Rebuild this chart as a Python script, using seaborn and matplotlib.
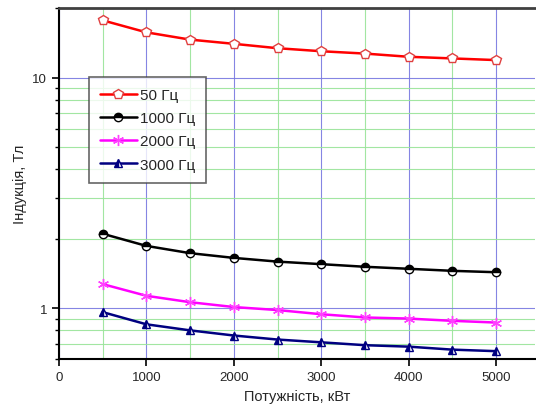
import numpy as np
import pandas as pd
import seaborn as sns
from matplotlib import pyplot as plt
from matplotlib.ticker import LogLocator, FixedLocator, NullFormatter

# style
sns.set_style("white")
plt.rcParams["font.family"] = ["Liberation Sans", "DejaVu Sans"]

# data
power = [500, 1000, 1500, 2000, 2500, 3000, 3500, 4000, 4500, 5000]
b_50 = [17.7, 15.7, 14.6, 14.0, 13.4, 13.0, 12.7, 12.3, 12.1, 11.9]
b_1000 = [2.10, 1.86, 1.73, 1.65, 1.59, 1.55, 1.51, 1.48, 1.45, 1.43]
b_2000 = [1.27, 1.13, 1.06, 1.01, 0.98, 0.94, 0.91, 0.90, 0.88, 0.865]
b_3000 = [0.96, 0.85, 0.80, 0.76, 0.73, 0.71, 0.69, 0.68, 0.66, 0.65]
x_ticks = [0, 1000, 2000, 3000, 4000, 5000]

fig = plt.figure(figsize=(5.36, 4.14), dpi=100)
ax = fig.add_axes([0.110, 0.130, 0.889, 0.848])

#series styles
series = [
    ("50 Гц", b_50, dict(color="red", marker="p", markerfacecolor="white",
                          markeredgecolor="#e04040", markersize=7)),
    ("1000 Гц", b_1000, dict(color="black", marker="o", fillstyle="top",
                             markerfacecolor="black", markerfacecoloralt="white",
                             markeredgecolor="black", markersize=6)),
    ("2000 Гц", b_2000, dict(color="#ff00ff", marker=(6, 2, 0),
                             markeredgecolor="#ff40ff", markersize=8)),
    ("3000 Гц", b_3000, dict(color="#000080", marker="^", fillstyle="left",
                             markerfacecolor="#000080", markerfacecoloralt="white",
                             markeredgecolor="#000080", markersize=6)),
]

for name, vals, kw in series:
    sns.lineplot(x=power, y=vals, ax=ax, label=name, linewidth=1.8,
                 markeredgewidth=1, **kw)

ax.set_yscale("log")
ax.set_xlim(0, 5450)
ax.set_ylim(0.6, 20)

ax.xaxis.set_major_locator(FixedLocator(x_ticks))
ax.xaxis.set_minor_locator(FixedLocator([500, 1500, 2500, 3500, 4500]))
ax.yaxis.set_major_locator(FixedLocator([1, 10]))
ax.yaxis.set_major_formatter(plt.FuncFormatter(lambda v, p: f"{v:g}"))
ax.yaxis.set_minor_locator(LogLocator(base=10, subs=np.arange(2, 10)))
ax.yaxis.set_minor_formatter(NullFormatter())

ax.grid(True, which="major", color="#7878e0", linewidth=0.8, alpha=0.9)
ax.grid(True, which="minor", color="#98e498", linewidth=0.8, alpha=0.9)
ax.set_axisbelow(True)

ax.tick_params(axis="both", which="major", direction="out", length=5, width=1.2,
               labelsize=9.5, color="black", bottom=True, left=True)
ax.tick_params(axis="y", which="minor", direction="out", length=3, width=1,
               color="black", left=True)
ax.tick_params(axis="x", which="minor", length=0)

for s in ["left", "bottom"]:
    ax.spines[s].set_color("black")
    ax.spines[s].set_linewidth(1.5)
ax.spines["top"].set_color("#404040")
ax.spines["top"].set_linewidth(2)
ax.spines["right"].set_visible(False)

ax.set_xlabel("Потужність, кВт", fontsize=10.5)
ax.set_ylabel("Індукція, Тл", fontsize=10.5)

leg = ax.legend(loc="upper left", bbox_to_anchor=(0.062, 0.805), fontsize=11,
                frameon=True, fancybox=False, edgecolor="#404040",
                handlelength=2.4, handletextpad=0.2, labelspacing=0.6,
                borderpad=0.75, borderaxespad=0)
leg.get_frame().set_linewidth(1.2)

fig.savefig("out.png", dpi=100)
